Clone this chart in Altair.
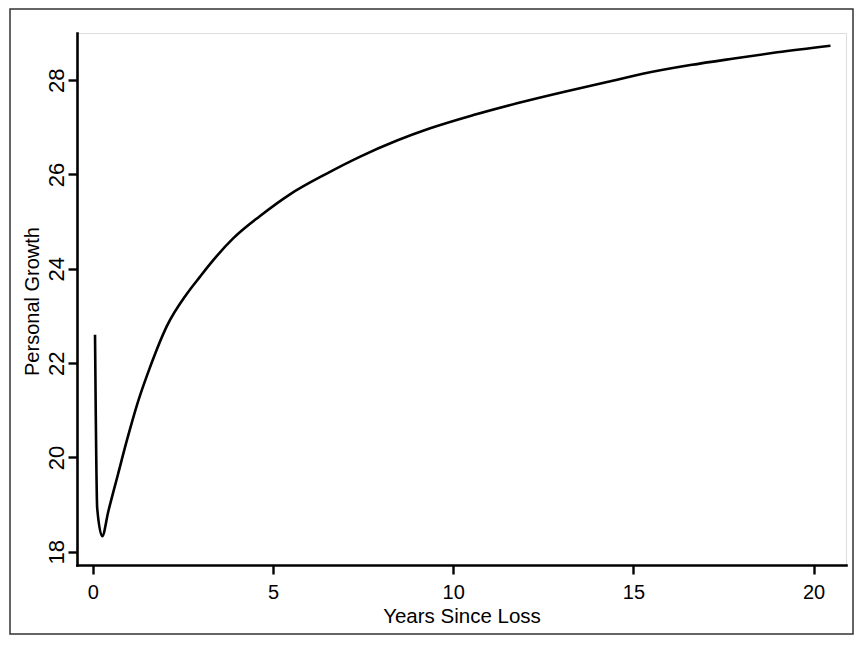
import altair as alt
import pandas as pd

# Values
years = [0.06, 0.08, 0.12, 0.26, 0.43, 0.70, 0.94, 1.26, 1.58, 2.05, 2.60, 2.97,
         3.25, 3.90, 4.64, 5.47, 6.49, 7.42, 8.44, 9.36, 10.56, 11.77, 13.06,
         14.27, 15.29, 16.58, 17.79, 18.99, 20.47]
growth = [22.60, 20.98, 18.93, 18.33, 18.86, 19.65, 20.35, 21.20, 21.90, 22.78,
          23.46, 23.83, 24.10, 24.65, 25.12, 25.58, 26.02, 26.38, 26.72, 26.98,
          27.26, 27.51, 27.75, 27.96, 28.14, 28.32, 28.46, 28.59, 28.73]
x_ticks = [0, 5, 10, 15, 20]
y_ticks = [18, 20, 22, 24, 26, 28]
x_title = "Years Since Loss"
y_title = "Personal Growth"

df = pd.DataFrame({"years": years, "growth": growth})

FONT = "Liberation Sans"

line = alt.Chart(df).mark_line(
    color="black", strokeWidth=2.6, interpolate="monotone"
).encode(
    x=alt.X(
        "years:Q",
        scale=alt.Scale(domain=[-0.44, 20.9], nice=False, zero=False),
        axis=alt.Axis(
            values=x_ticks, title=x_title, grid=False,
            domainColor="black", domainWidth=2.6, domainCap="square",
            tickColor="black", tickWidth=2.4, tickSize=9,
            labelFont=FONT, labelFontSize=20, labelColor="black", labelPadding=8,
            titleFont=FONT, titleFontSize=20.5, titleFontWeight="normal",
            titleColor="black", titlePadding=4,
        ),
    ),
    y=alt.Y(
        "growth:Q",
        scale=alt.Scale(domain=[17.72, 29.0], nice=False, zero=False),
        axis=alt.Axis(
            values=y_ticks, title=y_title, grid=False,
            domainColor="black", domainWidth=2.6, domainCap="square",
            tickColor="black", tickWidth=2.4, tickSize=9,
            labelFont=FONT, labelFontSize=22, labelColor="black",
            labelAngle=270, labelAlign="center", labelBaseline="alphabetic",
            labelPadding=5,
            titleFont=FONT, titleFontSize=20, titleFontWeight="normal",
            titleColor="black", titlePadding=3, titleY=268,
        ),
    ),
)

frame = alt.Chart(pd.DataFrame({"k": [0]})).mark_rect(
    fill="white", fillOpacity=0, stroke="#333333", strokeWidth=1.5
).encode(
    x=alt.value(-67), x2=alt.value(776), y=alt.value(-24), y2=alt.value(601)
)

chart = alt.layer(frame, line).properties(
    width=769, height=532,
    autosize=alt.AutoSizeParams(type="none"),
    padding={"left": 69, "top": 25, "right": 8, "bottom": 70},
).configure_view(stroke=None).configure(background="white")

chart.save("out.html", embed_options={"renderer": "svg", "actions": False})
